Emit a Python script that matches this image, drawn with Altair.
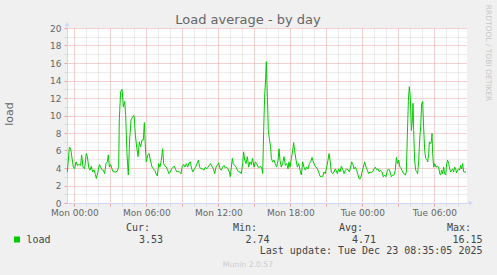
import altair as alt
import pandas as pd

# hours relative to Mon 00:00
hours = [-0.58, -0.41, -0.30, -0.08, 0.03, 0.14, 0.25, 0.42, 0.53, 0.61, 0.73, 0.86, 1.00, 1.09, 1.20,
         1.31, 1.42, 1.53, 1.64, 1.75, 1.84, 1.95, 2.09, 2.20, 2.31, 2.42, 2.53, 2.64, 2.75, 2.84,
         2.92, 3.03, 3.14, 3.25, 3.45, 3.59, 3.70, 3.75, 3.86, 3.98, 4.09, 4.20, 4.28, 4.39, 4.50,
         4.61, 4.73, 4.86, 4.98, 5.09, 5.20, 5.31, 5.42, 5.53, 5.64, 5.75, 5.84, 5.92, 6.00, 6.11,
         6.23, 6.34, 6.48, 6.59, 6.70, 6.81, 6.92, 7.03, 7.14, 7.25, 7.36, 7.45, 7.56, 7.67, 7.78,
         7.89, 8.00, 8.11, 8.23, 8.34, 8.45, 8.56, 8.67, 8.78, 8.89, 9.00, 9.11, 9.23, 9.34, 9.45,
         9.56, 9.67, 9.78, 9.89, 10.00, 10.11, 10.23, 10.34, 10.45, 10.56, 10.70, 10.81, 10.92, 11.03,
         11.14, 11.25, 11.36, 11.48, 11.59, 11.70, 11.81, 11.92, 12.03, 12.14, 12.25, 12.36, 12.48,
         12.59, 12.70, 12.81, 12.92, 13.00, 13.09, 13.17, 13.25, 13.36, 13.48, 13.59, 13.70, 13.81,
         13.92, 14.03, 14.11, 14.20, 14.31, 14.42, 14.53, 14.64, 14.75, 14.86, 14.98, 15.09, 15.20,
         15.31, 15.42, 15.53, 15.64, 15.70, 15.78, 15.86, 15.95, 16.00, 16.09, 16.17, 16.25, 16.36,
         16.42, 16.53, 16.64, 16.75, 16.86, 16.98, 17.06, 17.14, 17.25, 17.36, 17.48, 17.59, 17.70,
         17.81, 17.89, 17.98, 18.09, 18.20, 18.28, 18.36, 18.48, 18.59, 18.70, 18.81, 18.92, 19.03,
         19.14, 19.25, 19.36, 19.48, 19.59, 19.70, 19.81, 19.92, 20.03, 20.14, 20.25, 20.36, 20.48,
         20.59, 20.70, 20.81, 20.92, 21.03, 21.14, 21.23, 21.31, 21.42, 21.53, 21.64, 21.75, 21.81,
         21.92, 22.03, 22.14, 22.25, 22.36, 22.48, 22.59, 22.70, 22.81, 22.92, 23.03, 23.11, 23.20,
         23.31, 23.42, 23.53, 23.64, 23.75, 23.86, 23.98, 24.09, 24.20, 24.31, 24.42, 24.53, 24.64,
         24.75, 24.86, 24.98, 25.09, 25.20, 25.31, 25.42, 25.53, 25.64, 25.75, 25.86, 25.98, 26.09,
         26.20, 26.31, 26.42, 26.53, 26.64, 26.75, 26.84, 26.95, 27.03, 27.14, 27.25, 27.36, 27.50,
         27.59, 27.67, 27.75, 27.84, 27.92, 28.00, 28.09, 28.17, 28.23, 28.28, 28.36, 28.45, 28.53,
         28.61, 28.70, 28.78, 28.86, 28.95, 29.03, 29.11, 29.20, 29.28, 29.36, 29.45, 29.53, 29.59,
         29.67, 29.75, 29.81, 29.86, 29.95, 30.03, 30.14, 30.25, 30.36, 30.45, 30.53, 30.61, 30.70,
         30.78, 30.86, 30.95, 31.03, 31.11, 31.20, 31.28, 31.36, 31.45, 31.53, 31.61, 31.70, 31.78,
         31.86, 31.95, 32.03, 32.11, 32.20, 32.28, 32.36, 32.45, 32.56, 32.64]

load = [3.55, 6.4, 6.2, 4.1, 3.9, 4.7, 4.3, 4.4, 4.3, 5.5, 4.1, 3.9, 5.65, 5.3, 4.1,
        3.75, 4.2, 3.55, 3.8, 3.3, 2.8, 3.45, 4.4, 4.1, 3.8, 3.75, 3.35, 4.5, 4.7, 5.5,
        4.1, 4.4, 3.9, 3.55, 3.55, 3.65, 4.2, 9.5, 12.7, 13.0, 11.0, 11.6, 10.0, 5.65, 3.2,
        7.2, 9.5, 9.85, 10.0, 7.75, 6.4, 5.3, 7.0, 6.4, 7.2, 7.2, 9.2, 6.4, 4.7, 5.45,
        5.65, 4.9, 4.1, 3.9, 3.75, 3.35, 3.1, 4.5, 4.1, 4.9, 6.2, 4.5, 4.2, 4.1, 3.75,
        3.35, 3.55, 3.9, 4.1, 4.2, 3.8, 3.55, 3.6, 3.55, 3.35, 4.2, 4.4, 4.1, 4.5, 4.1,
        4.6, 4.7, 3.9, 3.55, 3.9, 4.1, 4.5, 4.9, 4.1, 3.9, 3.9, 3.75, 4.1, 3.9,
        4.1, 4.3, 4.5, 4.2, 3.9, 3.35, 4.1, 4.3, 4.6, 3.9, 3.75, 4.1, 4.3,
        4.0, 4.1, 3.9, 3.55, 3.0, 4.1, 5.1, 4.5, 4.3, 4.1, 3.75, 3.55, 3.55,
        3.35, 4.5, 5.85, 4.9, 4.5, 5.3, 4.1, 4.7, 4.4, 5.1, 4.1, 4.7, 4.5,
        4.1, 4.1, 4.2, 3.9, 3.35, 8.3, 12.1, 14.4, 16.15, 12.1, 8.3, 7.35, 6.4,
        5.1, 4.7, 4.9, 4.5, 4.1, 4.9, 6.2, 4.9, 4.1, 4.5, 5.3, 4.3, 4.5,
        3.9, 4.7, 4.1, 5.1, 6.0, 6.9, 6.0, 4.9, 4.1, 4.5, 3.75, 3.2, 4.7,
        4.1, 3.75, 4.1, 3.9, 4.5, 4.7, 5.2, 4.7, 4.3, 4.1, 3.9, 3.55, 3.05,
        3.0, 3.0, 3.55, 3.35, 4.1, 4.9, 5.65, 4.9, 3.55, 3.35, 3.55, 3.9, 3.75,
        3.35, 3.9, 3.55, 4.2, 3.9, 3.35, 3.75, 3.9, 3.8, 3.55, 4.1, 4.7, 4.5,
        3.9, 4.1, 3.75, 3.2, 2.74, 2.8, 3.55, 4.1, 4.7, 4.1, 3.75, 3.35, 3.55,
        3.45, 3.55, 3.9, 4.1, 3.8, 3.9, 3.55, 3.75, 3.55, 3.0, 3.2, 3.0, 3.75,
        3.9, 3.55, 3.0, 3.2, 3.2, 3.75, 5.2, 4.5, 4.9, 4.1, 3.9, 3.55, 3.3,
        3.2, 3.55, 7.55, 11.75, 13.3, 12.1, 8.3, 9.5, 11.4, 8.3, 4.9, 3.75, 3.6,
        3.35, 4.9, 7.2, 8.7, 11.4, 11.6, 8.7, 6.0, 5.1, 5.0, 4.7, 5.65, 7.0,
        6.8, 7.0, 7.95, 5.65, 4.1, 4.5, 4.1, 4.2, 4.1, 3.35, 3.2, 3.75, 3.35,
        4.1, 3.35, 3.2, 4.5, 4.9, 4.5, 3.9, 3.55, 3.75, 3.9, 3.55, 4.1, 3.9,
        3.45, 3.8, 3.9, 3.75, 4.3, 3.9, 4.5, 3.55, 3.55, 3.53]

x_tick_hours = [0, 6, 12, 18, 24, 30]
x_tick_labels = ["Mon 00:00", "Mon 06:00", "Mon 12:00", "Mon 18:00", "Tue 00:00", "Tue 06:00"]
x_grid_hours = list(range(0, 33))
y_grid_values = list(range(0, 21))
stat_headers = ["Cur:", "Min:", "Avg:", "Max:"]
stat_values = ["3.53", "2.74", "4.71", "16.15"]
series_name = "load"
title_text = "Load average - by day"
y_title = "load"
last_update = "Last update: Tue Dec 23 08:35:05 2025"
footer_text = "Munin 2.0.57"
watermark_text = "RRDTOOL / TOBI OETIKER"

df = pd.DataFrame({"h": hours, "load": load})

FONT = "DejaVu Sans"
MONO = "DejaVu Sans Mono"
FONT_COLOR = "#666666"
AXIS_COLOR = "#CFD6F8"
MAJOR = "#eaa0a0"
MINOR = "#d8d8d8"
GREEN = "#00cc00"

label_expr = " : ".join(
    f"datum.value == {h} ? '{t}'" for h, t in zip(x_tick_hours, x_tick_labels)
) + " : ''"

x_axis = alt.Axis(
    values=x_grid_hours, labelExpr=label_expr, title=None,
    grid=True, gridColor={"condition": {"test": "datum.value % 3 == 0", "value": MAJOR}, "value": MINOR},
    gridDash=[1, 1], gridWidth=1,
    ticks=True, tickSize=3,
    tickColor={"condition": {"test": "datum.value % 3 == 0", "value": MAJOR}, "value": MINOR},
    domainColor=AXIS_COLOR, domainWidth=1,
    labelFont=FONT, labelFontSize=9, labelColor=FONT_COLOR, labelPadding=2,
    labelOverlap=False, labelFlush=False,
)
y_axis = alt.Axis(
    values=y_grid_values, labelExpr="datum.value % 2 == 0 ? datum.label : ''", title=None,
    grid=True, gridColor={"condition": {"test": "datum.value % 2 == 0", "value": MAJOR}, "value": MINOR},
    gridDash=[1, 1], gridWidth=1,
    ticks=True, tickSize=3,
    tickColor={"condition": {"test": "datum.value % 2 == 0", "value": MAJOR}, "value": MINOR},
    domainColor=AXIS_COLOR, domainWidth=1,
    labelFont=FONT, labelFontSize=9, labelColor=FONT_COLOR, labelPadding=3,
    labelOverlap=False,
)

line = alt.Chart(df).mark_line(color=GREEN, strokeWidth=1, interpolate="linear").encode(
    x=alt.X("h:Q", scale=alt.Scale(domain=[-0.608, 32.725], nice=False, zero=False), axis=x_axis),
    y=alt.Y("load:Q", scale=alt.Scale(domain=[0, 20], nice=False), axis=y_axis),
)


def text_layer(txt, x, y, font=FONT, size=10, color=FONT_COLOR, align="left", angle=0, baseline="alphabetic"):
    return alt.Chart(pd.DataFrame({"t": [txt]})).mark_text(
        font=font, fontSize=size, color=color, align=align, angle=angle, baseline=baseline
    ).encode(text="t:N", x=alt.value(x), y=alt.value(y))


layers = [line]
layers.append(text_layer(title_text, 181, -4, size=13, align="center"))
layers.append(text_layer(y_title, -57, 86, size=11, align="center", angle=270, baseline="middle"))
layers.append(text_layer(watermark_text, 421, 25, size=7.5, color="#c8c8c8", align="center", angle=90, baseline="middle"))

header_right = [83, 190, 296, 404]
value_right = [96, 202.5, 309, 415.5]
for hdr, val, hx, vx in zip(stat_headers, stat_values, header_right, value_right):
    layers.append(text_layer(hdr, hx, 202.5, font=MONO, size=10, color="#444444", align="right"))
    layers.append(text_layer(val, vx, 214.5, font=MONO, size=10, color="#444444", align="right"))
layers.append(text_layer(series_name, -40.5, 214.5, font=MONO, size=10, color="#444444", align="left"))
layers.append(text_layer(last_update, 415.5, 225.5, font=MONO, size=10, color="#444444", align="right"))
layers.append(text_layer(footer_text, 181, 238.5, size=7.7, color="#cccccc", align="center"))

# legend swatch
layers.append(
    alt.Chart(pd.DataFrame({"s": [series_name]})).mark_square(size=36, color=GREEN, opacity=1).encode(
        x=alt.value(-50), y=alt.value(211.5)
    )
)
# axis arrows
layers.append(
    alt.Chart(pd.DataFrame({"a": [1]})).mark_rule(color=AXIS_COLOR).encode(
        x=alt.value(0), y=alt.value(0), y2=alt.value(-3)
    )
)
layers.append(
    alt.Chart(pd.DataFrame({"a": [1]})).mark_point(shape="triangle-up", filled=True, size=22, color=AXIS_COLOR, opacity=1).encode(
        x=alt.value(0), y=alt.value(-4)
    )
)
layers.append(
    alt.Chart(pd.DataFrame({"a": [1]})).mark_rule(color=AXIS_COLOR).encode(
        x=alt.value(400), x2=alt.value(403), y=alt.value(175)
    )
)
layers.append(
    alt.Chart(pd.DataFrame({"a": [1]})).mark_point(shape="triangle-right", filled=True, size=22, color=AXIS_COLOR, opacity=1).encode(
        x=alt.value(404), y=alt.value(175)
    )
)

chart = alt.layer(*layers).properties(
    width=400, height=175,
    padding={"left": 67, "top": 28, "right": 30, "bottom": 72},
    autosize=alt.AutoSizeParams(type="none"),
    background="#f0f0f0",
).configure_view(stroke=None, fill="white")

chart.save("out.html", embed_options={"renderer": "svg", "actions": False})
